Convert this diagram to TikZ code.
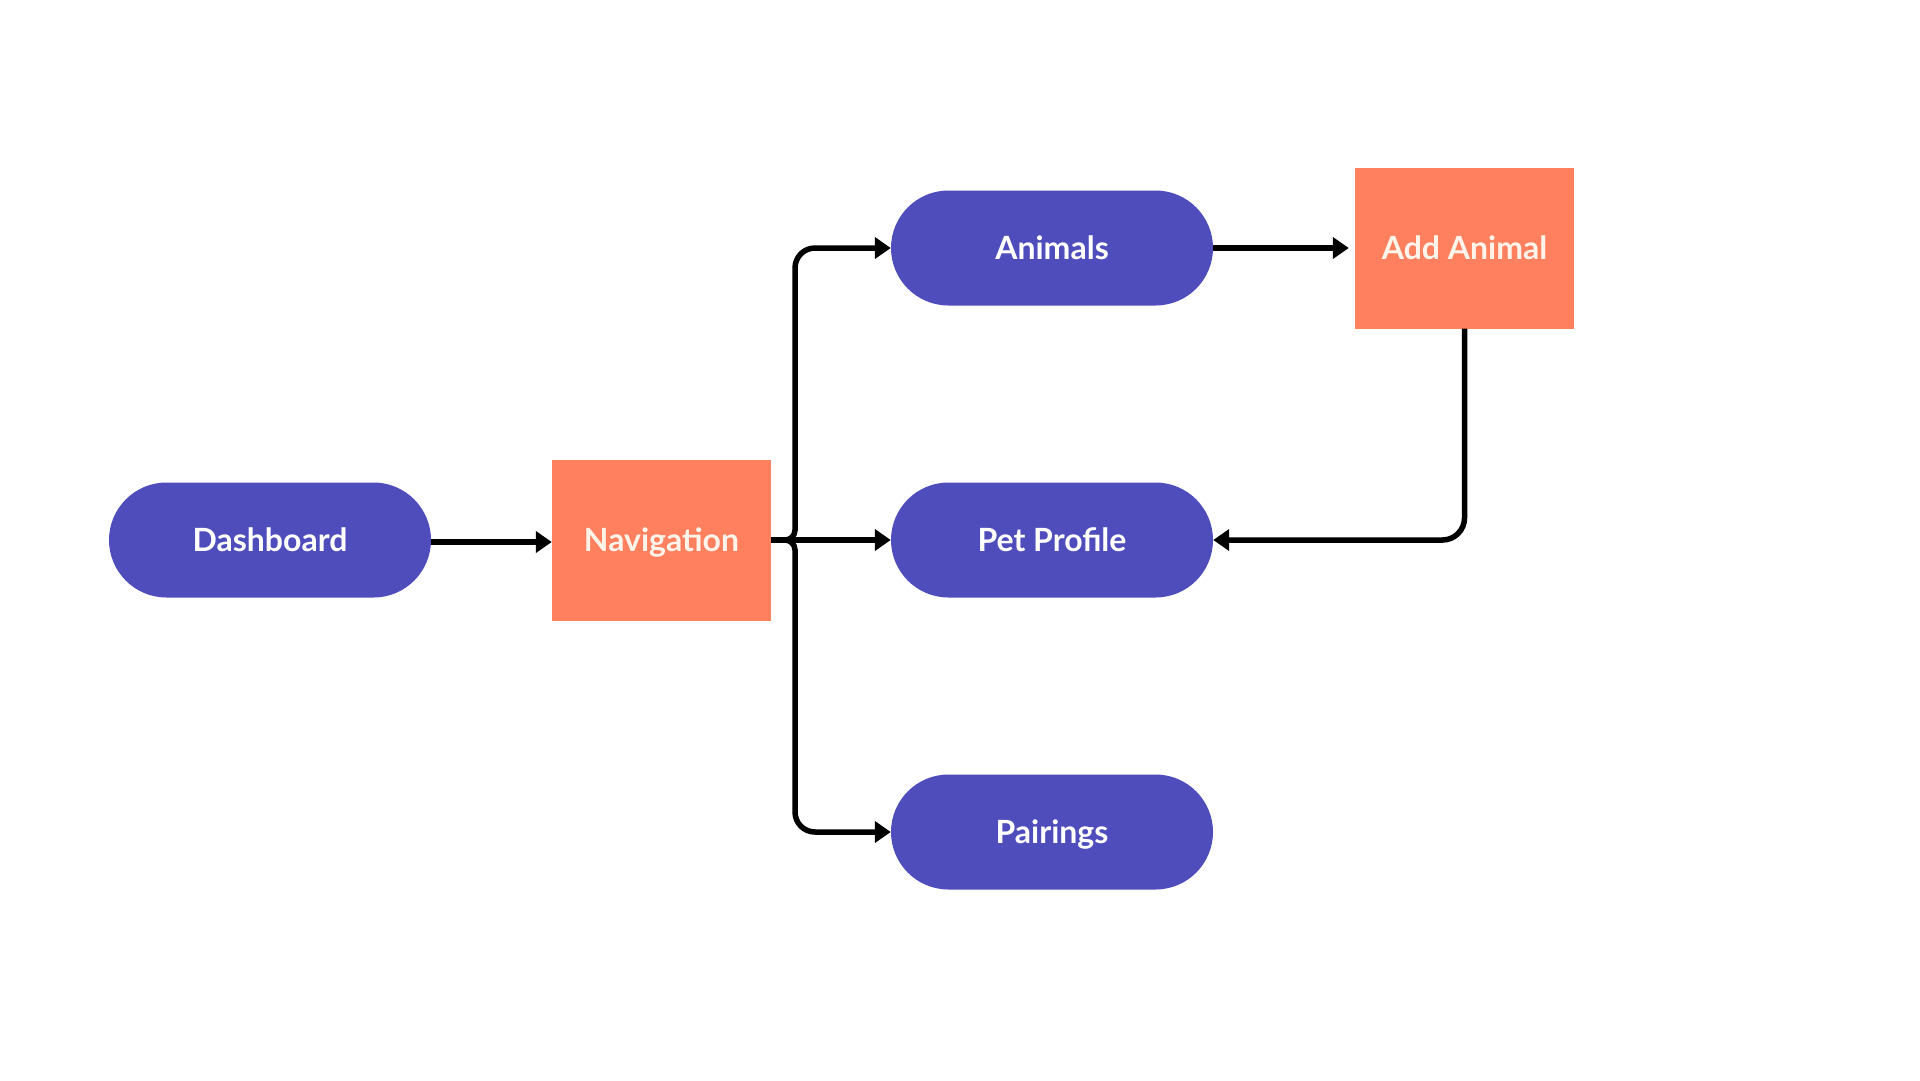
\documentclass[tikz,border=0pt]{standalone}
\usepackage{fontspec}
\setmainfont{Lato}
\usetikzlibrary{arrows.meta}
\definecolor{pillblue}{HTML}{4F4DBC}
\definecolor{coral}{HTML}{FE805F}
\definecolor{cream}{HTML}{FFF4EA}
\begin{document}
\begin{tikzpicture}[x=1pt,y=-1pt,
  lbl/.style={font=\fontsize{32}{36}\selectfont\bfseries, text height=23pt, text depth=0pt, inner sep=0pt},
  pill/.style={lbl, fill=pillblue, text=white, rounded corners=57.5pt, minimum width=322pt, minimum height=115pt},
  sqbox/.style={lbl, fill=coral, text=cream, minimum width=219pt, minimum height=161pt},
  conn/.style={line width=5.5pt, -{Triangle[length=16pt,width=21pt]}}
]
\useasboundingbox (0,0) rectangle (1920,1080);
\fill[white] (0,0) rectangle (1920,1080);

\node[pill] (dash) at (270,540) {Dashboard};
\node[sqbox] (nav) at (661.5,540) {Navigation};
\node[pill] (anim) at (1052,248) {Animals};
\node[pill] (pet) at (1052,540) {Pet Profile};
\node[pill] (pair) at (1052,832) {Pairings};
\node[sqbox] (add) at (1464.5,248) {Add Animal};

\coordinate (br) at (795,540);

\draw[conn] (dash.east |- 0,542) -- (nav.west |- 0,542);
\draw[conn] (nav.east) -- (pet.west);
\draw[conn, rounded corners=10pt] (nav.east) -- (br) [rounded corners=20pt] -- (br |- anim.west) -- (anim.west);
\draw[conn, rounded corners=10pt] (nav.east) -- (br) [rounded corners=20pt] -- (br |- pair.west) -- (pair.west);
\draw[conn, shorten >=6pt] (anim.east) -- (add.west |- anim.east);
\draw[conn, rounded corners=22pt] (add.south) -- (add.south |- pet.east) -- (pet.east);
\end{tikzpicture}
\end{document}
